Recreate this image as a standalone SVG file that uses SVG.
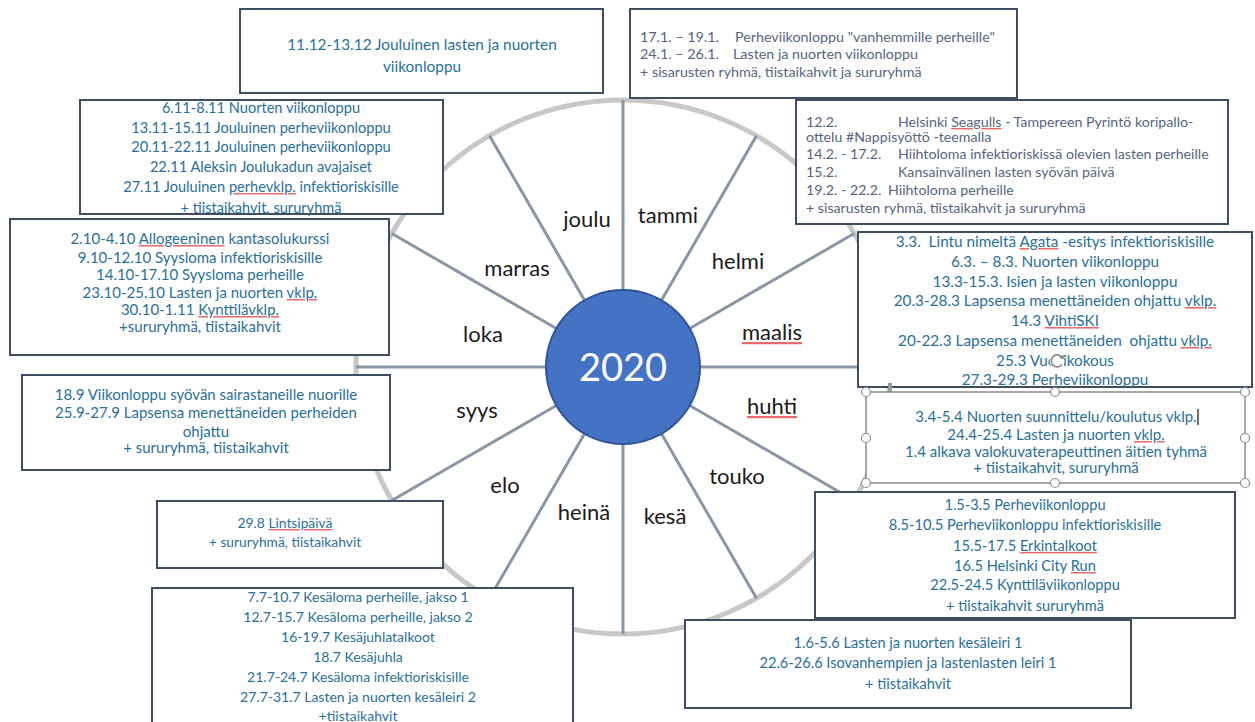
<svg xmlns="http://www.w3.org/2000/svg" width="1255" height="722" viewBox="0 0 1255 722">
<style>
.box{fill:#fff;stroke:#3f4d63;stroke-width:2}
.sel{fill:#fff;stroke:#8c8c8c;stroke-width:1.5}
.hdl{fill:#fff;stroke:#8c8c8c;stroke-width:1.2}
.t{font-family:Lato,"Open Sans","Liberation Sans",sans-serif;fill:#2a6f9a;white-space:pre}
.c{text-anchor:middle}
.g{fill:#56657f}
.m{font-family:Lato,"Open Sans","Liberation Sans",sans-serif;font-size:22px;fill:#1a1a1a;text-anchor:middle}
.sq{text-decoration:underline;fill:#e86a6a}
.spoke{stroke:#8a95a5;stroke-width:3;stroke-linecap:butt}
</style>
<rect width="1255" height="722" fill="#fff"/>
<g id="wheel-ring">
<circle cx="623" cy="367" r="267" fill="none" stroke="#c8c8c8" stroke-width="5"/>
</g>
<g id="connectors">
<line class="spoke" x1="700" y1="367" x2="890" y2="367"/>
<line class="spoke" x1="689.7" y1="405.5" x2="854.2" y2="500.5"/>
<line class="spoke" x1="661.5" y1="433.7" x2="756.5" y2="598.2"/>
<line class="spoke" x1="623" y1="444" x2="623" y2="634"/>
<line class="spoke" x1="584.5" y1="433.7" x2="489.5" y2="598.2"/>
<line class="spoke" x1="556.3" y1="405.5" x2="391.8" y2="500.5"/>
<line class="spoke" x1="546" y1="367" x2="356" y2="367"/>
<line class="spoke" x1="556.3" y1="328.5" x2="391.8" y2="233.5"/>
<line class="spoke" x1="584.5" y1="300.3" x2="489.5" y2="135.8"/>
<line class="spoke" x1="623" y1="290" x2="623" y2="100"/>
<line class="spoke" x1="661.5" y1="300.3" x2="756.5" y2="135.8"/>
<line class="spoke" x1="689.7" y1="328.5" x2="854.2" y2="233.5"/>
</g>
<g id="center-2020">
<circle cx="623" cy="367" r="77" fill="#4472c4" stroke="#2f5597" stroke-width="2"/>
<text x="623" y="381" font-family="Lato,'Open Sans',sans-serif" font-size="38" fill="#fff" text-anchor="middle">2020</text>
</g>
<g id="months">
<text class="m" x="587" y="227">joulu</text>
<text class="m" x="668" y="223">tammi</text>
<text class="m" x="738" y="269">helmi</text>
<text class="m" x="772" y="340"><tspan class="sq"><tspan fill="#1a1a1a">maalis</tspan></tspan></text>
<text class="m" x="772" y="414"><tspan class="sq"><tspan fill="#1a1a1a">huhti</tspan></tspan></text>
<text class="m" x="737" y="484">touko</text>
<text class="m" x="665" y="524">kesä</text>
<text class="m" x="584" y="520">heinä</text>
<text class="m" x="505" y="493">elo</text>
<text class="m" x="477" y="418">syys</text>
<text class="m" x="483" y="342">loka</text>
<text class="m" x="517" y="276">marras</text>
</g>
<g id="box-dec">
<rect class="box" x="240" y="9" width="363" height="84"/>
<text class="t c" font-size="15.4" x="422" y="50">11.12-13.12 Jouluinen lasten ja nuorten</text>
<text class="t c" font-size="15.4" x="422" y="72">viikonloppu</text>
</g>
<g id="box-jan">
<rect class="box" x="630" y="9" width="387" height="89"/>
<text class="t g" font-size="14.3" y="42"><tspan x="640">17.1. – 19.1.</tspan><tspan x="735">Perheviikonloppu "vanhemmille perheille"</tspan></text>
<text class="t g" font-size="14.3" y="59"><tspan x="640">24.1. – 26.1.</tspan><tspan x="733">Lasten ja nuorten viikonloppu</tspan></text>
<text class="t g" font-size="14.3" x="640" y="77">+ sisarusten ryhmä, tiistaikahvit ja sururyhmä</text>
</g>
<g id="box-nov">
<rect class="box" x="80" y="100" width="363" height="114"/>
<text class="t c" font-size="14.6" x="261" y="113">6.11-8.11 Nuorten viikonloppu</text>
<text class="t c" font-size="14.6" x="261" y="133">13.11-15.11 Jouluinen perheviikonloppu</text>
<text class="t c" font-size="14.6" x="261" y="152">20.11-22.11 Jouluinen perheviikonloppu</text>
<text class="t c" font-size="14.6" x="261" y="172">22.11 Aleksin Joulukadun avajaiset</text>
<text class="t c" font-size="14.6" x="261" y="192">27.11 Jouluinen <tspan class="sq"><tspan fill="#2a6f9a">perhevklp.</tspan></tspan> infektioriskisille</text>
<text class="t c" font-size="14.6" x="261" y="213">+ tiistaikahvit, sururyhmä</text>
</g>
<g id="box-feb">
<rect class="box" x="796" y="100" width="432" height="124"/>
<text class="t g" font-size="14.2" y="127"><tspan x="806">12.2.</tspan><tspan x="898">Helsinki </tspan><tspan class="sq"><tspan fill="#56657f">Seagulls</tspan></tspan><tspan> - Tampereen Pyrintö koripallo-</tspan></text>
<text class="t g" font-size="14.2" x="806" y="142">ottelu #Nappisyöttö -teemalla</text>
<text class="t g" font-size="14.2" y="159"><tspan x="806">14.2. - 17.2.</tspan><tspan x="898">Hiihtoloma infektioriskissä olevien lasten perheille</tspan></text>
<text class="t g" font-size="14.2" y="177"><tspan x="806">15.2.</tspan><tspan x="898">Kansainvälinen lasten syövän päivä</tspan></text>
<text class="t g" font-size="14.2" y="195"><tspan x="806">19.2. - 22.2.</tspan><tspan x="888">Hiihtoloma perheille</tspan></text>
<text class="t g" font-size="14.2" x="806" y="213">+ sisarusten ryhmä, tiistaikahvit ja sururyhmä</text>
</g>
<g id="box-oct">
<rect class="box" x="10" y="219" width="379" height="136"/>
<text class="t c" font-size="15" x="200" y="244">2.10-4.10 <tspan class="sq"><tspan fill="#2a6f9a">Allogeeninen</tspan></tspan> kantasolukurssi</text>
<text class="t c" font-size="15" x="200" y="263">9.10-12.10 Syysloma infektioriskisille</text>
<text class="t c" font-size="15" x="200" y="280">14.10-17.10 Syysloma perheille</text>
<text class="t c" font-size="15" x="200" y="298">23.10-25.10 Lasten ja nuorten <tspan class="sq"><tspan fill="#2a6f9a">vklp.</tspan></tspan></text>
<text class="t c" font-size="15" x="200" y="315">30.10-1.11 <tspan class="sq"><tspan fill="#2a6f9a">Kynttilävklp.</tspan></tspan></text>
<text class="t c" font-size="15" x="200" y="332">+sururyhmä, tiistaikahvit</text>
</g>
<g id="box-mar">
<rect class="box" x="858" y="232" width="394" height="155"/>
<text class="t c" font-size="15.3" x="1055" y="247">3.3.  Lintu nimeltä <tspan class="sq"><tspan fill="#2a6f9a">Agata</tspan></tspan> -esitys infektioriskisille</text>
<text class="t c" font-size="15.3" x="1055" y="267">6.3. – 8.3. Nuorten viikonloppu</text>
<text class="t c" font-size="15.3" x="1055" y="287">13.3-15.3. Isien ja lasten viikonloppu</text>
<text class="t c" font-size="15.3" x="1055" y="306">20.3-28.3 Lapsensa menettäneiden ohjattu <tspan class="sq"><tspan fill="#2a6f9a">vklp.</tspan></tspan></text>
<text class="t c" font-size="15.3" x="1055" y="326">14.3 <tspan class="sq"><tspan fill="#2a6f9a">VihtiSKI</tspan></tspan></text>
<text class="t c" font-size="15.3" x="1055" y="346">20-22.3 Lapsensa menettäneiden  ohjattu <tspan class="sq"><tspan fill="#2a6f9a">vklp.</tspan></tspan></text>
<text class="t c" font-size="15.3" x="1055" y="366">25.3 Vuosikokous</text>
<text class="t c" font-size="15.3" x="1055" y="385">27.3-29.3 Perheviikonloppu</text>
</g>
<g id="box-apr">
<rect x="888" y="383" width="4" height="9" fill="#9a9a9a"/>
<rect class="sel" x="866" y="392" width="379" height="91"/>
<text class="t c" font-size="15" x="1056" y="422">3.4-5.4 Nuorten suunnittelu/koulutus vklp.</text>
<line x1="1198" y1="409" x2="1198" y2="425" stroke="#111" stroke-width="1.2"/>
<text class="t c" font-size="15" x="1056" y="440">24.4-25.4 Lasten ja nuorten <tspan class="sq"><tspan fill="#2a6f9a">vklp.</tspan></tspan></text>
<text class="t c" font-size="15" x="1056" y="457">1.4 alkava valokuvaterapeuttinen äitien tyhmä</text>
<text class="t c" font-size="15" x="1056" y="473">+ tiistaikahvit, sururyhmä</text>
<circle class="hdl" cx="866" cy="392" r="4.5"/>
<circle class="hdl" cx="1055" cy="392" r="4.5"/>
<circle class="hdl" cx="1245" cy="392" r="4.5"/>
<circle class="hdl" cx="866" cy="438" r="4.5"/>
<circle class="hdl" cx="1245" cy="438" r="4.5"/>
<circle class="hdl" cx="866" cy="483" r="4.5"/>
<circle class="hdl" cx="1055" cy="483" r="4.5"/>
<circle class="hdl" cx="1245" cy="483" r="4.5"/>
<circle cx="1057" cy="361" r="7.5" fill="#fff"/>
<path d="M1062.5 358 A6 6 0 1 0 1062 364.5" fill="none" stroke="#8c8c8c" stroke-width="1.8"/>
<path d="M1064.5 354.5 L1063.5 359.5 L1059 357.5 Z" fill="#8c8c8c"/>
</g>
<g id="box-sep">
<rect class="box" x="22" y="375" width="368" height="95"/>
<text class="t c" font-size="15" x="206" y="400">18.9 Viikonloppu syövän sairastaneille nuorille</text>
<text class="t c" font-size="15" x="206" y="418">25.9-27.9 Lapsensa menettäneiden perheiden</text>
<text class="t c" font-size="15" x="206" y="437">ohjattu</text>
<text class="t c" font-size="15" x="206" y="453">+ sururyhmä, tiistaikahvit</text>
</g>
<g id="box-aug">
<rect class="box" x="157" y="501" width="286" height="67"/>
<text class="t c" font-size="13.8" x="285" y="528">29.8 <tspan class="sq"><tspan fill="#2a6f9a">Lintsipäivä</tspan></tspan></text>
<text class="t c" font-size="13.8" x="285" y="547">+ sururyhmä, tiistaikahvit</text>
</g>
<g id="box-may">
<rect class="box" x="815" y="492" width="420" height="126"/>
<text class="t c" font-size="14.6" x="1025" y="510">1.5-3.5 Perheviikonloppu</text>
<text class="t c" font-size="14.6" x="1025" y="530">8.5-10.5 Perheviikonloppu infektioriskisille</text>
<text class="t c" font-size="14.6" x="1025" y="551">15.5-17.5 <tspan class="sq"><tspan fill="#2a6f9a">Erkintalkoot</tspan></tspan></text>
<text class="t c" font-size="14.6" x="1025" y="571">16.5 Helsinki City <tspan class="sq"><tspan fill="#2a6f9a">Run</tspan></tspan></text>
<text class="t c" font-size="14.6" x="1025" y="590">22.5-24.5 Kynttiläviikonloppu</text>
<text class="t c" font-size="14.6" x="1025" y="611">+ tiistaikahvit sururyhmä</text>
</g>
<g id="box-jun">
<rect class="box" x="685" y="620" width="446" height="88"/>
<text class="t c" font-size="14.6" x="908" y="648">1.6-5.6 Lasten ja nuorten kesäleiri 1</text>
<text class="t c" font-size="14.6" x="908" y="668">22.6-26.6 Isovanhempien ja lastenlasten leiri 1</text>
<text class="t c" font-size="14.6" x="908" y="689">+ tiistaikahvit</text>
</g>
<g id="box-jul">
<rect class="box" x="152" y="588" width="421" height="150"/>
<text class="t c" font-size="14" x="358" y="602">7.7-10.7 Kesäloma perheille, jakso 1</text>
<text class="t c" font-size="14" x="358" y="622">12.7-15.7 Kesäloma perheille, jakso 2</text>
<text class="t c" font-size="14" x="358" y="642">16-19.7 Kesäjuhlatalkoot</text>
<text class="t c" font-size="14" x="358" y="662">18.7 Kesäjuhla</text>
<text class="t c" font-size="14" x="358" y="682">21.7-24.7 Kesäloma infektioriskisille</text>
<text class="t c" font-size="14" x="358" y="702">27.7-31.7 Lasten ja nuorten kesäleiri 2</text>
<text class="t c" font-size="14" x="358" y="721">+tiistaikahvit</text>
</g>
</svg>
